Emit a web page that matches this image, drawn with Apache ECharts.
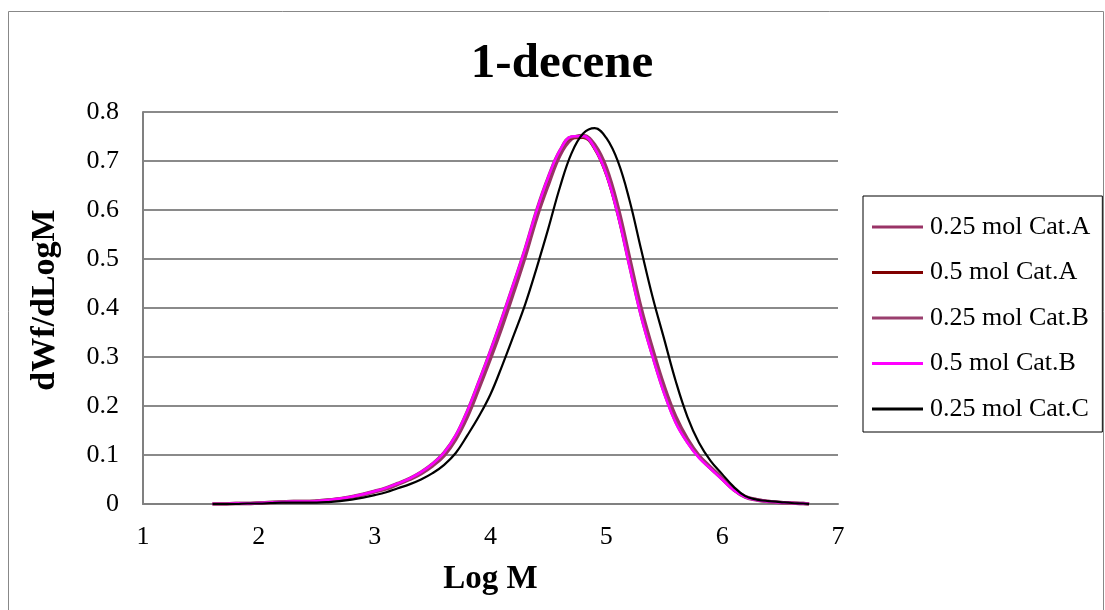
<!DOCTYPE html>
<html>
<head>
<meta charset="utf-8">
<script src="https://cdn.jsdelivr.net/npm/echarts@6/dist/echarts.min.js"></script>
<style>
html,body{margin:0;padding:0;background:#fff;}
#chart{width:1105px;height:610px;}
</style>
</head>
<body>
<div id="chart"></div>
<script>
// ---- data ----
const title = '1-decene';
const xName = 'Log M';
const yName = 'dWf/dLogM';
const xTicks = [1, 2, 3, 4, 5, 6, 7];
const yTicks = [0, 0.1, 0.2, 0.3, 0.4, 0.5, 0.6, 0.7, 0.8];
const seriesNames = ['0.25 mol Cat.A', '0.5 mol Cat.A', '0.25 mol Cat.B', '0.5 mol Cat.B', '0.25 mol Cat.C'];

const logM = [1.6,1.7,1.8,1.9,2.0,2.1,2.2,2.3,2.4,2.5,2.6,2.7,2.8,2.9,3.0,3.1,3.2,3.3,3.4,3.5,
  3.6,3.7,3.8,3.9,4.0,4.1,4.2,4.3,4.4,4.5,4.6,4.7,4.8,4.9,5.0,5.1,5.2,5.3,5.4,5.5,
  5.6,5.7,5.8,5.9,6.0,6.1,6.2,6.3,6.4,6.5,6.6,6.7,6.75];

const catA025 = [0.000,0.000,0.001,0.001,0.002,0.003,0.004,0.005,0.005,0.006,0.008,0.010,0.014,0.019,0.025,0.031,0.040,0.050,0.062,0.078,
  0.099,0.132,0.178,0.236,0.297,0.362,0.432,0.505,0.585,0.652,0.712,0.745,0.752,0.733,0.686,0.606,0.503,0.400,0.316,0.240,
  0.178,0.133,0.099,0.075,0.053,0.030,0.015,0.009,0.005,0.003,0.002,0.001,0.000];

const catA05 = [0.000,0.000,0.001,0.001,0.002,0.003,0.004,0.005,0.005,0.006,0.008,0.011,0.015,0.020,0.026,0.033,0.042,0.052,0.065,0.081,
  0.104,0.139,0.188,0.248,0.311,0.378,0.448,0.520,0.598,0.664,0.719,0.746,0.747,0.723,0.670,0.588,0.486,0.385,0.302,0.227,
  0.167,0.126,0.095,0.072,0.050,0.028,0.014,0.008,0.005,0.003,0.002,0.001,0.000];

const catB025 = [0.000,0.000,0.001,0.001,0.002,0.003,0.004,0.005,0.005,0.006,0.008,0.011,0.015,0.020,0.026,0.033,0.042,0.052,0.065,0.082,
  0.105,0.139,0.189,0.249,0.312,0.379,0.449,0.521,0.600,0.667,0.721,0.749,0.750,0.727,0.675,0.592,0.488,0.386,0.303,0.228,
  0.168,0.127,0.096,0.073,0.051,0.029,0.014,0.008,0.005,0.003,0.002,0.001,0.000];

const catB05 = [0.000,0.000,0.001,0.001,0.002,0.003,0.004,0.005,0.005,0.006,0.008,0.011,0.015,0.020,0.026,0.033,0.042,0.052,0.065,0.082,
  0.105,0.140,0.190,0.250,0.313,0.380,0.450,0.522,0.600,0.668,0.722,0.750,0.751,0.726,0.673,0.590,0.485,0.383,0.300,0.225,
  0.165,0.125,0.094,0.072,0.050,0.028,0.014,0.008,0.005,0.003,0.002,0.001,0.000];

const catC025 = [0.000,0.000,0.000,0.001,0.001,0.002,0.003,0.003,0.003,0.003,0.004,0.006,0.009,0.013,0.018,0.024,0.032,0.040,0.050,0.063,
  0.080,0.104,0.140,0.179,0.224,0.282,0.344,0.408,0.483,0.563,0.647,0.716,0.756,0.767,0.747,0.699,0.620,0.520,0.422,0.336,
  0.250,0.178,0.125,0.088,0.061,0.035,0.016,0.009,0.006,0.004,0.002,0.001,0.000];

const seriesValues = [catA025, catA05, catB025, catB05, catC025];
const colors = ['#993366', '#800000', '#9A3F6E', '#FF00FF', '#000000'];
const widths = [3.5, 2, 3.5, 2.5, 2.2];

// ---- chart ----
const FONT = '"Liberation Serif", "DejaVu Serif", serif';
const chart = echarts.init(document.getElementById('chart'), null, {renderer: 'canvas'});

const series = seriesNames.map((name, i) => ({
  name: name,
  type: 'line',
  data: logM.map((x, j) => [x, seriesValues[i][j]]),
  smooth: 0.4,
  showSymbol: false,
  symbol: 'none',
  lineStyle: {color: colors[i], width: widths[i]},
  itemStyle: {color: colors[i]},
  z: 2 + i,
  animation: false
}));

chart.setOption({
  animation: false,
  backgroundColor: '#ffffff',
  title: {
    text: title,
    left: 562,
    top: 40,
    textAlign: 'center',
    padding: 0,
    textStyle: {fontFamily: FONT, fontSize: 49, fontWeight: 'bold', color: '#000'}
  },
  graphic: [{
    type: 'rect',
    shape: {x: 8.5, y: 11.5, width: 1095, height: 620},
    style: {fill: 'none', stroke: '#888888', lineWidth: 1},
    silent: true, z: -10
  }],
  legend: {
    orient: 'vertical',
    left: 863,
    top: 196,
    data: seriesNames,
    icon: 'rect',
    itemWidth: 51,
    itemHeight: 3,
    itemGap: 19.5,
    padding: [18, 12, 10, 9],
    borderColor: '#000',
    borderWidth: 1,
    backgroundColor: '#fff',
    textStyle: {fontFamily: FONT, fontSize: 26, color: '#000', lineHeight: 26, padding: [0, 0, 0, 2]}
  },
  grid: {left: 143, right: 267, top: 112, bottom: 106, containLabel: false},
  xAxis: {
    type: 'value',
    min: xTicks[0],
    max: xTicks[xTicks.length - 1],
    interval: 1,
    name: xName,
    nameLocation: 'middle',
    nameGap: 59,
    nameTextStyle: {fontFamily: FONT, fontSize: 33, fontWeight: 'bold', color: '#000'},
    axisLine: {show: true, lineStyle: {color: '#808080', width: 2}},
    axisTick: {show: false},
    splitLine: {show: false},
    axisLabel: {fontFamily: FONT, fontSize: 26, color: '#000', margin: 20,
      formatter: v => xTicks.includes(v) ? String(v) : ''}
  },
  yAxis: {
    type: 'value',
    min: yTicks[0],
    max: yTicks[yTicks.length - 1],
    interval: 0.1,
    name: yName,
    nameLocation: 'middle',
    nameGap: 81,
    nameTextStyle: {fontFamily: FONT, fontSize: 34, fontWeight: 'bold', color: '#000', padding: [0, 0, 0, 16]},
    axisLine: {show: true, lineStyle: {color: '#808080', width: 2}},
    axisTick: {show: false},
    splitLine: {show: true, lineStyle: {color: '#8a8a8a', width: 2}},
    axisLabel: {fontFamily: FONT, fontSize: 26, color: '#000', margin: 24,
      formatter: v => { const t = yTicks.find(k => Math.abs(k - v) < 1e-9); return t === undefined ? '' : String(t); }}
  },
  series: series
});
</script>
</body>
</html>
